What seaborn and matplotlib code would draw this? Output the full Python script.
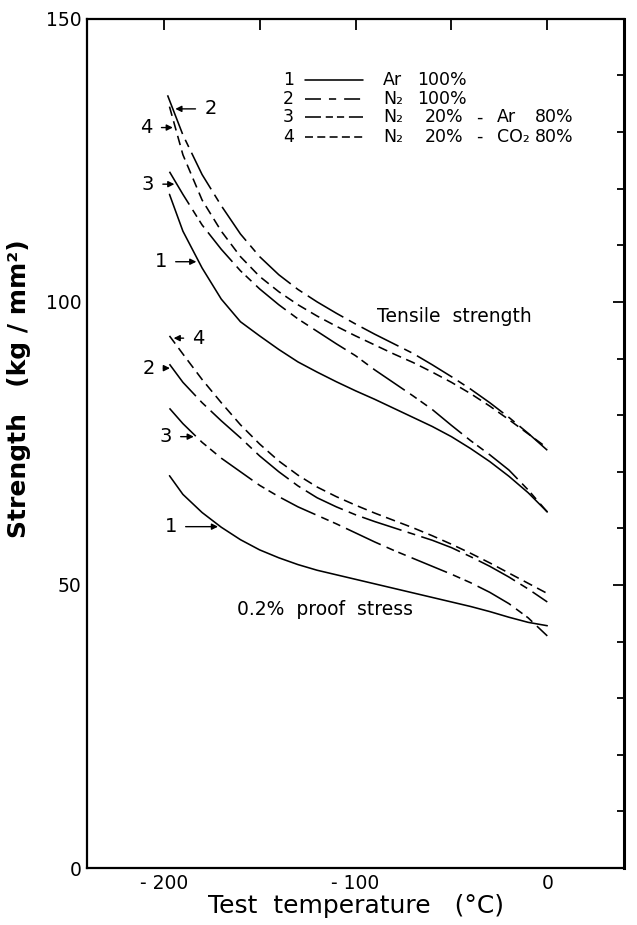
import numpy as np
import pandas as pd
import seaborn as sns
import matplotlib
matplotlib.use("Agg")
import matplotlib.pyplot as plt
from matplotlib.lines import Line2D

# ---- data -------------------------------------------------------------
temps = [-197, -190, -180, -170, -160, -150, -140, -130, -120, -110, -100,
         -90, -80, -70, -60, -50, -40, -30, -20, -10, 0]

# tensile strength (kg/mm2)
tensile_ar = [119.0, 112.5, 106.0, 100.5, 96.5, 94.0, 91.6, 89.4, 87.6, 85.9, 84.3,
              82.8, 81.2, 79.6, 78.0, 76.2, 74.1, 71.8, 69.2, 66.3, 62.9]
tensile_n2 = [136.5, 129.5, 122.5, 117.0, 112.0, 108.0, 104.8, 102.2, 100.0, 98.0, 96.1,
              94.3, 92.6, 90.9, 88.9, 86.8, 84.6, 82.2, 79.6, 76.8, 73.8]
tensile_n2_ar = [123.0, 119.0, 113.6, 109.3, 105.5, 102.3, 99.5, 97.0, 94.8, 92.6, 90.5,
                 88.0, 85.7, 83.4, 81.0, 78.2, 75.5, 73.0, 70.3, 66.8, 62.9]
tensile_n2_co2 = [134.5, 126.0, 118.0, 112.5, 108.0, 104.5, 101.8, 99.5, 97.5, 95.7, 94.0,
                  92.4, 90.8, 89.3, 87.6, 85.8, 83.8, 81.6, 79.2, 76.7, 74.2]

# 0.2% proof stress (kg/mm2)
proof_ar = [69.3, 66.0, 62.8, 60.2, 58.0, 56.2, 54.8, 53.6, 52.6, 51.8, 51.0,
            50.2, 49.4, 48.6, 47.8, 47.0, 46.2, 45.3, 44.3, 43.4, 42.8]
proof_n2 = [89.0, 85.8, 82.2, 79.0, 76.0, 72.8, 70.0, 67.5, 65.4, 63.8, 62.4,
            61.2, 60.1, 59.0, 57.9, 56.6, 55.0, 53.3, 51.4, 49.3, 47.0]
proof_n2_ar = [81.2, 78.5, 75.2, 72.4, 70.0, 67.6, 65.6, 63.8, 62.3, 60.8, 59.2,
               57.6, 56.1, 54.7, 53.3, 51.9, 50.4, 48.7, 46.7, 44.2, 41.0]
proof_n2_co2 = [94.0, 90.8, 86.3, 82.2, 78.3, 74.9, 71.9, 69.4, 67.3, 65.6, 64.1,
                62.7, 61.4, 60.1, 58.7, 57.2, 55.6, 53.9, 52.1, 50.3, 48.5]

gas_ids = ["1", "2", "3", "4"]
gas_first = ["Ar", "N\u2082", "N\u2082", "N\u2082"]
gas_first_pct = ["100%", "100%", "20%", "20%"]
gas_second = ["", "", "Ar", "CO\u2082"]
gas_second_pct = ["", "", "80%", "80%"]

x_ticks = [-200, -100, 0]
x_tick_labels = ["- 200", "- 100", "0"]
y_ticks = [0, 50, 100, 150]

# ---- long-form table ---------------------------------------------------
series = {
    ("1", "tensile"): tensile_ar, ("2", "tensile"): tensile_n2,
    ("3", "tensile"): tensile_n2_ar, ("4", "tensile"): tensile_n2_co2,
    ("1", "proof"): proof_ar, ("2", "proof"): proof_n2,
    ("3", "proof"): proof_n2_ar, ("4", "proof"): proof_n2_co2,
}
rows = []
for (gid, prop), vals in series.items():
    xs = list(temps)
    if gid == "2" and prop == "tensile":
        xs[0] = -198
    for t, v in zip(xs, vals):
        rows.append({"gas": gid, "prop": prop, "temp": t, "strength": v})
df = pd.DataFrame(rows)

# dash patterns (in line-width units) for the curves and for the key
curve_dashes = {"1": "", "2": (26, 4, 5, 4), "3": (24, 4, 5, 3, 5, 4), "4": (6, 3.5)}
key_dashes = {"1": None, "2": (10, 5, 4.5, 5), "3": (10, 3, 4.5, 2.5, 4.5, 3), "4": (5, 2.7)}

# ---- figure ------------------------------------------------------------
sns.set_style("white")
plt.rcParams["font.family"] = ["DejaVu Sans"]
plt.rcParams["text.color"] = "black"
plt.rcParams["axes.labelcolor"] = "black"

fig = plt.figure(figsize=(6.37, 9.25), dpi=100)
ax = fig.add_axes([0.1366, 0.0616, 0.843, 0.918])

sns.lineplot(data=df, x="temp", y="strength", style="gas", units="prop",
             estimator=None, dashes=curve_dashes, color="black", linewidth=1.15,
             legend=False, ax=ax)

ax.set_xlim(-240, 40)
ax.set_ylim(0, 150)

ax.set_xticks(x_ticks)
ax.set_xticklabels(x_tick_labels)
ax.set_xticks([-150, -50], minor=True)
ax.set_yticks(y_ticks)
ax.set_yticks(np.arange(0, 151, 10), minor=True)
ax.tick_params(axis="both", which="both", direction="in", top=True, right=True,
               colors="black", width=1.3, labelsize=13.5, pad=4)
ax.tick_params(axis="x", which="both", length=8)
ax.tick_params(axis="y", which="major", length=8)
ax.tick_params(axis="y", which="minor", length=5)
for sp in ax.spines.values():
    sp.set_color("black")
    sp.set_linewidth(1.6)
ax.spines["right"].set_linewidth(2.2)

ax.set_xlabel("Test  temperature   (\u00b0C)", fontsize=18, labelpad=1, color="black")
ax.set_ylabel("Strength   (kg / mm\u00b2)", fontsize=18, fontweight="bold",
              labelpad=10, color="black")
ax.yaxis.set_label_coords(-0.105, 0.565)

# ---- curve labels with arrows -----------------------------------------
def curve_x_at(gid, prop, y):
    sub = df[(df.gas == gid) & (df.prop == prop)].sort_values("strength")
    return float(np.interp(y, sub.strength, sub.temp))

# (curve id, property, label height, label x)
callouts = [
    ("2", "tensile", 134.1, -175.6),
    ("4", "tensile", 130.8, -209.0),
    ("3", "tensile", 120.8, -208.3),
    ("1", "tensile", 107.1, -201.6),
    ("4", "proof", 93.6, -181.8),
    ("2", "proof", 88.3, -208.0),
    ("3", "proof", 76.2, -199.0),
    ("1", "proof", 60.3, -196.4),
]
for gid, prop, y, x_lab in callouts:
    x_curve = curve_x_at(gid, prop, y)
    x_tip = x_curve + (1.3 if x_lab > x_curve else -1.3)
    ax.annotate(gid, xy=(x_tip, y), xytext=(x_lab, y), fontsize=14, color="black",
                ha="center", va="center",
                arrowprops=dict(arrowstyle="-|>", color="black", lw=1.0,
                                mutation_scale=9, shrinkA=4, shrinkB=0))

ax.text(-88.8, 97.5, "Tensile  strength", fontsize=13.5, ha="left", va="center", color="black")
ax.text(-161.6, 45.6, "0.2%  proof  stress", fontsize=13.5, ha="left", va="center", color="black")

# ---- key ---------------------------------------------------------------
row_y = [0.928, 0.906, 0.884, 0.861]
for i, gid in enumerate(gas_ids):
    y = row_y[i]
    ax.text(0.375, y, gid, transform=ax.transAxes, fontsize=12.5, ha="center", va="center")
    ln = Line2D([0.406, 0.514], [y, y], transform=ax.transAxes, color="black", lw=1.15)
    if key_dashes[gid]:
        ln.set_dashes(key_dashes[gid])
    ax.add_line(ln)
    ax.text(0.551, y, gas_first[i], transform=ax.transAxes, fontsize=12.5, va="center")
    pct_x = 0.615 if gas_second[i] == "" else 0.629
    ax.text(pct_x, y, gas_first_pct[i], transform=ax.transAxes, fontsize=12.5, va="center")
    if gas_second[i]:
        ax.text(0.724, y, "-", transform=ax.transAxes, fontsize=12.5, va="center")
        ax.text(0.764, y, gas_second[i], transform=ax.transAxes, fontsize=12.5, va="center")
        ax.text(0.834, y, gas_second_pct[i], transform=ax.transAxes, fontsize=12.5, va="center")

fig.savefig("out.png", dpi=100)
